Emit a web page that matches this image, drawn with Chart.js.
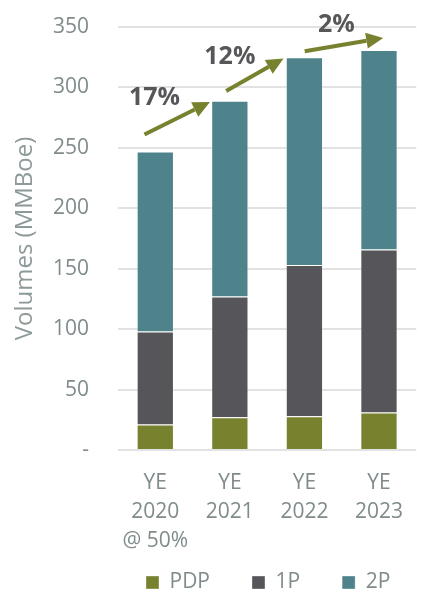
<!DOCTYPE html>
<html>
<head>
<meta charset="utf-8">
<script src="https://cdn.jsdelivr.net/npm/chart.js@4/dist/chart.umd.min.js"></script>
<style>
  html, body { margin: 0; padding: 0; background: #fff; }
  #wrap { width: 422px; height: 594px; }
</style>
</head>
<body>
<div id="wrap"><canvas id="chart"></canvas></div>
<script>
// 카테고리 & 시리즈 값 (MMBoe)
const categories = [['YE', '2020', '@ 50%'], ['YE', '2021'], ['YE', '2022'], ['YE', '2023']];
const pdpValues = [21, 27, 28, 31];
const onePValues = [77, 100, 125, 135];
const twoPValues = [149, 162, 172, 165];
const yTicks = [0, 50, 100, 150, 200, 250, 300, 350];

// 성장률 화살표 (데이터 좌표: 카테고리 인덱스, 값)
const growthLabels = ['17%', '12%', '2%'];
const arrowFrom = [[-0.145, 261], [0.951, 297], [2.004, 330]];
const arrowTo = [[0.733, 288], [1.72, 324], [3.057, 341]];
const labelAt = [[-0.01, 291], [1.0, 325], [2.43, 352]];

const OLIVE = '#78822E';
const GREY = '#56555A';
const TEAL = '#4E838B';
const AXIS_TEXT = '#808B8B';

const growthArrows = {
  id: 'growthArrows',
  afterDatasetsDraw(chart) {
    const { ctx, scales: { x, y } } = chart;
    ctx.save();
    growthLabels.forEach((label, i) => {
      const x1 = x.getPixelForValue(arrowFrom[i][0]);
      const y1 = y.getPixelForValue(arrowFrom[i][1]);
      const x2 = x.getPixelForValue(arrowTo[i][0]);
      const y2 = y.getPixelForValue(arrowTo[i][1]);
      const ang = Math.atan2(y2 - y1, x2 - x1);
      const head = 17;
      const bx = x2 - head * Math.cos(ang);
      const by = y2 - head * Math.sin(ang);

      ctx.strokeStyle = OLIVE;
      ctx.fillStyle = OLIVE;
      ctx.lineWidth = 4;
      ctx.beginPath();
      ctx.moveTo(x1, y1);
      ctx.lineTo(bx, by);
      ctx.stroke();

      ctx.beginPath();
      ctx.moveTo(x2, y2);
      ctx.lineTo(bx + 8 * Math.sin(ang), by - 8 * Math.cos(ang));
      ctx.lineTo(bx - 8 * Math.sin(ang), by + 8 * Math.cos(ang));
      ctx.closePath();
      ctx.fill();

      ctx.fillStyle = '#57575A';
      ctx.font = 'bold 25px "Open Sans"';
      ctx.textAlign = 'center';
      ctx.textBaseline = 'middle';
      ctx.fillText(label, x.getPixelForValue(labelAt[i][0]), y.getPixelForValue(labelAt[i][1]));
    });
    ctx.restore();
  }
};

// 범례: 가로 간격은 넓게, 세로 높이는 작게 + 플롯 영역 중앙 정렬
const legendTweak = {
  id: 'legendTweak',
  afterInit(chart) {
    const lg = chart.legend;
    if (!lg || lg._tweaked) return;
    lg._tweaked = true;
    const fit = lg.fit.bind(lg);
    lg.fit = function () { fit(); this.height = 39; };
    const draw = lg.draw.bind(lg);
    lg.draw = function () {
      const { top, left, right } = this;
      const pad = this.options.labels.padding;
      const area = chart.chartArea;
      const shift = (area.left + area.right) / 2 + 1 - (left + right) / 2;
      this.top = top + 17 - pad;
      this.left = left + shift;
      this.right = right + shift;
      draw();
      this.top = top;
      this.left = left;
      this.right = right;
    };
  }
};

const mkSet = (label, data, color) => ({
  label,
  data,
  backgroundColor: color,
  borderColor: 'rgba(255,255,255,0.35)',
  borderWidth: 1,
  barPercentage: 0.5,
  categoryPercentage: 1.0
});

new Chart(document.getElementById('chart'), {
  type: 'bar',
  data: {
    labels: categories,
    datasets: [
      mkSet('PDP', pdpValues, OLIVE),
      mkSet('1P', onePValues, GREY),
      mkSet('2P', twoPValues, TEAL)
    ]
  },
  options: {
    responsive: true,
    maintainAspectRatio: false,
    animation: false,
    layout: { padding: { left: 0, right: 0, top: 27, bottom: 0 } },
    scales: {
      x: {
        stacked: true,
        grid: { display: false, drawTicks: false },
        border: { display: false },
        afterFit: (axis) => { axis.height = 105; },
        ticks: {
          color: AXIS_TEXT,
          font: { family: 'Open Sans', size: 21, lineHeight: 1.38 },
          padding: 19,
          maxRotation: 0,
          autoSkip: false
        }
      },
      y: {
        stacked: true,
        min: 0,
        max: 350,
        afterBuildTicks: (axis) => { axis.ticks = yTicks.map(v => ({ value: v })); },
        afterFit: (axis) => { axis.width = 118; axis.paddingTop = 0; axis.paddingBottom = 0; },
        grid: { color: '#E2E2E2', lineWidth: 2, drawTicks: false },
        border: { display: false },
        ticks: {
          color: AXIS_TEXT,
          font: { family: 'Open Sans', size: 21 },
          padding: 29,
          callback: (v) => (v === 0 ? '-' : v)
        },
        title: {
          display: true,
          text: 'Volumes (MMBoe)',
          color: '#8E9999',
          font: { family: 'Open Sans', size: 24 },
          padding: { top: 11, bottom: 0 }
        }
      }
    },
    plugins: {
      legend: {
        position: 'bottom',
        labels: {
          color: AXIS_TEXT,
          font: { family: 'Open Sans', size: 21 },
          boxWidth: 13,
          boxHeight: 13,
          padding: 42
        }
      },
      tooltip: { enabled: false }
    }
  },
  plugins: [growthArrows, legendTweak]
});
</script>
</body>
</html>
